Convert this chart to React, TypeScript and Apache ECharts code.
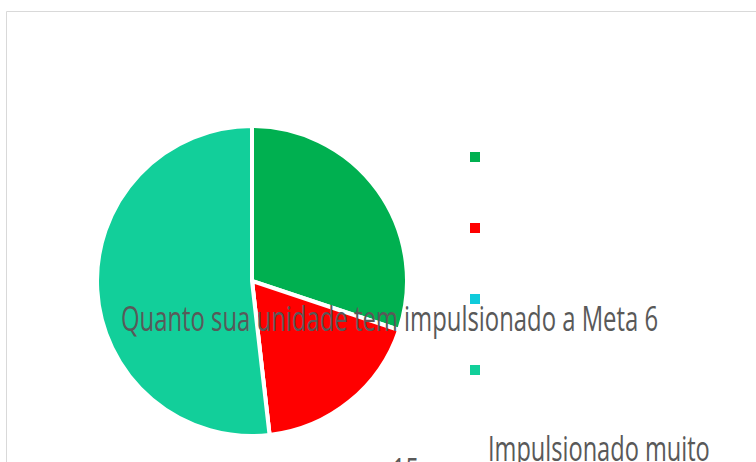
import React, { useEffect, useRef } from "react";
import * as echarts from "echarts";

const TITLE = "Quanto sua unidade tem impulsionado a Meta 6";
const categories = ["Impulsionado pouco", "Não impulsionou", "Não sei", "Impulsionado muito"];
const values = [25, 15, 0, 43];
const colors = ["#00B050", "#FF0000", "#0FCBDB", "#12CF9A"];

const FONT_FAMILY = "'Open Sans'";
const FONT_SIZE = 34;

function measure(text: string): number {
  const ctx = document.createElement("canvas").getContext("2d");
  if (!ctx) return text.length * FONT_SIZE * 0.55;
  ctx.font = `${FONT_SIZE}px ${FONT_FAMILY}`;
  return ctx.measureText(text).width;
}

export default function App() {
  const ref = useRef<HTMLDivElement>(null);
  useEffect(() => {
    if (!ref.current) return;
    const chart = echarts.init(ref.current, undefined, { renderer: "svg" });
    const titleScale = 537 / measure(TITLE);
    const labelScale = 222 / measure(categories[3]);
    const textStyle = (text: string) => ({
      text,
      fill: "#595959",
      fontSize: FONT_SIZE,
      fontFamily: FONT_FAMILY,
      align: "left",
      verticalAlign: "middle",
    });
    chart.setOption({
      animation: false,
      backgroundColor: "#ffffff",
      color: colors,
      legend: {
        orient: "vertical",
        left: 470,
        top: 152,
        padding: 0,
        itemWidth: 10,
        itemHeight: 10,
        itemGap: 61,
        icon: "rect",
        itemStyle: { borderWidth: 0 },
        formatter: () => "",
        textStyle: { fontSize: 8, lineHeight: 10 },
        selectedMode: false,
        data: categories,
      },
      series: [
        {
          type: "pie",
          center: [252, 281],
          radius: 155,
          startAngle: 90,
          clockwise: true,
          label: { show: false },
          labelLine: { show: false },
          emphasis: { disabled: true },
          itemStyle: { borderColor: "#ffffff", borderWidth: 4 },
          data: categories.map((name, i) => ({ name, value: values[i] })),
        },
      ],
      graphic: [
        {
          type: "rect",
          z: -10,
          shape: { x: 6.5, y: 11.5, width: 800, height: 500 },
          style: { fill: "none", stroke: "#d9d9d9", lineWidth: 1 },
          silent: true,
        },
        {
          type: "text",
          z: 100,
          x: 121,
          y: 318,
          scaleX: titleScale,
          style: textStyle(TITLE),
          silent: true,
        },
        {
          type: "text",
          z: 100,
          x: 488,
          y: 448,
          scaleX: labelScale,
          style: textStyle(categories[3]),
          silent: true,
        },
        {
          type: "text",
          z: 100,
          x: 392,
          y: 470,
          scaleX: labelScale,
          style: textStyle(String(values[1])),
          silent: true,
        },
      ],
    });
    return () => chart.dispose();
  }, []);
  return (
    <div
      ref={ref}
      style={{ position: "fixed", left: 0, top: 0, width: 756, height: 462 }}
    />
  );
}
